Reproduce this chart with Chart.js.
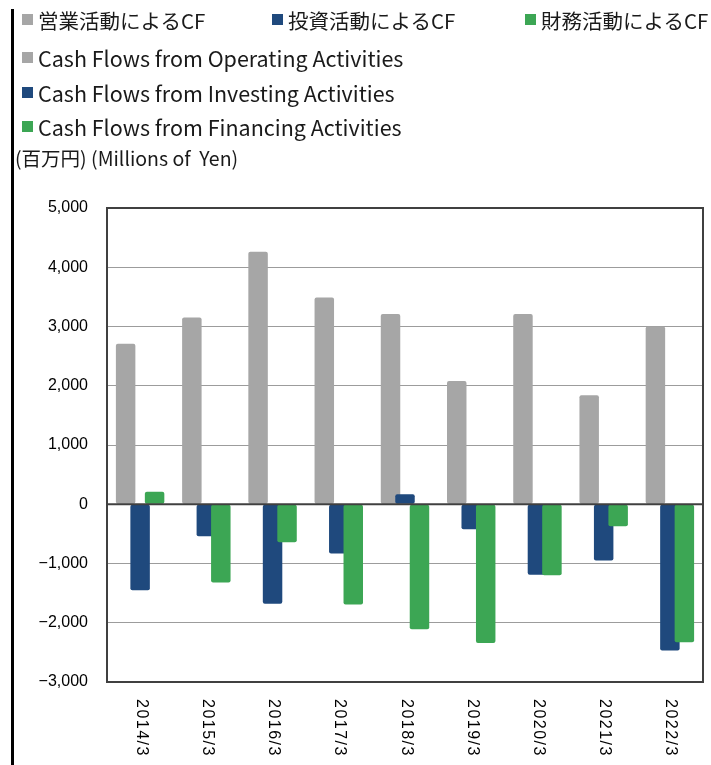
<!DOCTYPE html>
<html>
<head>
<meta charset="utf-8">
<script src="https://cdn.jsdelivr.net/npm/chart.js@4.4.0/dist/chart.umd.min.js"></script>
<style>
    body { margin: 0; background: #fff; width: 711px; height: 765px; overflow: hidden; position: relative; }
    #chart { position: absolute; left: 0; top: 0; }
    .bar-left { position: absolute; left: 11px; top: 9px; width: 3px; height: 756px; background: #000; }
    .legend { position: absolute; font-family: "Noto Sans CJK JP", sans-serif; font-size: 21.5px; color: #1a1a1a; white-space: pre; line-height: 24px; }
    .legend.ja { font-size: 20.5px; }
    .legend .sw { position: absolute; left: 0; top: 6px; width: 11px; height: 11px; }
    .legend span.txt { position: absolute; left: 16px; top: 0; }
    .unit { position: absolute; left: 15px; top: 146px; font-family: "Noto Sans CJK JP", sans-serif; font-size: 19.5px; color: #1a1a1a; white-space: pre; line-height: 24px; }
</style>
</head>
<body>
<canvas id="chart" width="711" height="765"></canvas>
<div class="bar-left"></div>
<div id="legend"></div>
<div class="unit">(百万円) (Millions of  Yen)</div>
<script>
const labels = ['2014/3', '2015/3', '2016/3', '2017/3', '2018/3', '2019/3', '2020/3', '2021/3', '2022/3'];
const operating = [2710, 3150, 4260, 3490, 3210, 2080, 3210, 1840, 3000];
const investing = [-1450, -540, -1680, -830, 170, -420, -1190, -950, -2470];
const financing = [210, -1320, -640, -1690, -2110, -2340, -1200, -370, -2330];

const namesJa = ['営業活動によるCF', '投資活動によるCF', '財務活動によるCF'];
const namesEn = ['Cash Flows from Operating Activities', 'Cash Flows from Investing Activities', 'Cash Flows from Financing Activities'];
const colors = ['#a6a6a6', '#1f497d', '#3ca654'];

// legend: Japanese names in one row, English names one per row
const legend = document.getElementById('legend');
const jaX = [22, 272, 525];
function addItem(x, y, color, text, cls) {
    const d = document.createElement('div');
    d.className = 'legend ' + cls;
    d.style.left = x + 'px';
    d.style.top = y + 'px';
    d.innerHTML = `<div class="sw" style="background:${color}"></div><span class="txt">${text}</span>`;
    legend.appendChild(d);
}
namesJa.forEach((n, i) => addItem(jaX[i], 8, colors[i], n, 'ja'));
namesEn.forEach((n, i) => addItem(22, 46 + i * 34.5, colors[i], n, 'en'));

// draw datasets in their natural order so later series sit on top
const drawOrder = {
    id: 'drawOrder',
    beforeDatasetsDraw(chart) {
        const ctx = chart.ctx;
        const a = chart.chartArea;
        ctx.save();
        ctx.beginPath();
        ctx.rect(a.left, a.top, a.right - a.left, a.bottom - a.top);
        ctx.clip();
        for (let i = 0; i < chart.data.datasets.length; i++) {
            chart.getDatasetMeta(i).controller.draw();
        }
        ctx.restore();
        return false;
    }
};

// frame, zero line and rotated category labels
const frame = {
    id: 'frame',
    afterDraw(chart) {
        const ctx = chart.ctx;
        const a = chart.chartArea;
        const y0 = chart.scales.y.getPixelForValue(0);
        ctx.save();
        ctx.strokeStyle = '#404040';
        ctx.lineWidth = 2;
        ctx.beginPath();
        ctx.moveTo(a.left, y0);
        ctx.lineTo(a.right, y0);
        ctx.stroke();
        ctx.strokeRect(a.left, a.top, a.right - a.left, a.bottom - a.top);

        ctx.fillStyle = '#000';
        ctx.font = '16px "Liberation Sans", Arial, sans-serif';
        ctx.letterSpacing = '1.5px';
        ctx.textAlign = 'left';
        ctx.textBaseline = 'middle';
        const xs = chart.scales.x;
        labels.forEach((lab, i) => {
            ctx.save();
            ctx.translate(xs.getPixelForTick(i) + 1, a.bottom + 17);
            ctx.rotate(Math.PI / 2);
            ctx.fillText(lab, 0, 0);
            ctx.restore();
        });
        ctx.restore();
    }
};

const barStyle = { borderRadius: 2, borderSkipped: false, categoryPercentage: 0.656, barPercentage: 1.345 };

new Chart(document.getElementById('chart'), {
    type: 'bar',
    data: {
        labels: labels,
        datasets: [
            { label: namesEn[0], data: operating, backgroundColor: colors[0], ...barStyle },
            { label: namesEn[1], data: investing, backgroundColor: colors[1], ...barStyle },
            { label: namesEn[2], data: financing, backgroundColor: colors[2], ...barStyle }
        ]
    },
    options: {
        responsive: false,
        animation: false,
        devicePixelRatio: 1,
        layout: { padding: { top: 208, right: 8, left: 0, bottom: 0 } },
        plugins: {
            legend: { display: false },
            tooltip: { enabled: false }
        },
        scales: {
            x: {
                grid: { display: false },
                border: { display: false },
                ticks: { display: false },
                afterFit: (scale) => { scale.height = 83; }
            },
            y: {
                min: -3000,
                max: 5000,
                border: { display: false },
                grid: { color: '#9c9c9c', lineWidth: 1, drawTicks: false },
                ticks: {
                    stepSize: 1000,
                    padding: 19,
                    color: '#000',
                    font: { family: '"Liberation Sans", Arial, sans-serif', size: 16 },
                    callback: (v) => (v < 0 ? '−' : '') + Math.abs(v).toLocaleString('en-US')
                },
                afterFit: (scale) => { scale.width = 107; }
            }
        }
    },
    plugins: [drawOrder, frame]
});
</script>
</body>
</html>
